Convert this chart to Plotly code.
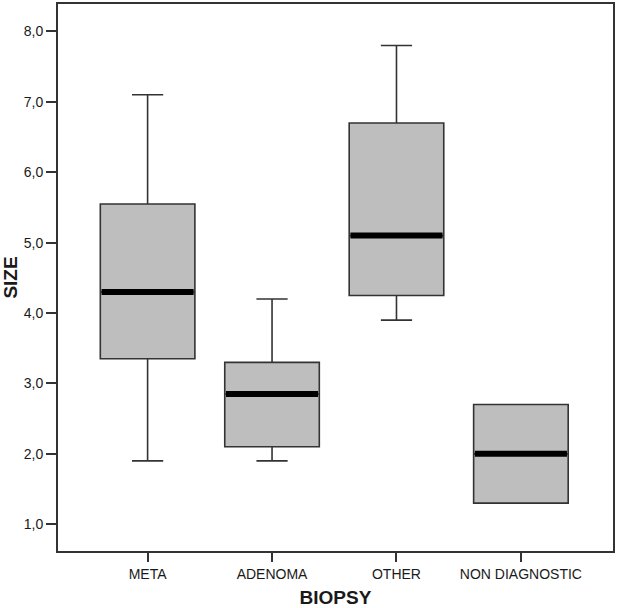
import plotly.graph_objects as go

categories = ["META", "ADENOMA", "OTHER", "NON DIAGNOSTIC"]
lower_whisker = [1.9, 1.9, 3.9, 1.3]
q1 = [3.35, 2.1, 4.25, 1.3]
median = [4.3, 2.85, 5.1, 2.0]
q3 = [5.55, 3.3, 6.7, 2.7]
upper_whisker = [7.1, 4.2, 7.8, 2.7]
y_ticks = [1, 2, 3, 4, 5, 6, 7, 8]

positions = list(range(len(categories)))
box_half = 0.38

fig = go.Figure()
fig.add_trace(go.Box(
    x=positions, q1=q1, median=median, q3=q3,
    lowerfence=lower_whisker, upperfence=upper_whisker,
    fillcolor="#bebebe", line=dict(color="#333333", width=1.6),
    width=2 * box_half, whiskerwidth=0.33, boxpoints=False, showlegend=False,
    hoverinfo="skip",
))
# thick median bars
mx, my = [], []
for p, m in zip(positions, median):
    mx += [p - box_half + 0.01, p + box_half - 0.01, None]
    my += [m, m, None]
fig.add_trace(go.Scatter(x=mx, y=my, mode="lines",
                         line=dict(color="black", width=6),
                         showlegend=False, hoverinfo="skip"))

fig.update_layout(
    width=617, height=608,
    margin=dict(l=57, r=2, t=2, b=51),
    paper_bgcolor="white", plot_bgcolor="white",
    separators=",.",
    font=dict(family="Liberation Sans, Arial, sans-serif", color="#1a1a1a", size=14),
    xaxis=dict(
        range=[-0.72, 3.74], tickvals=positions, ticktext=categories,
        showline=True, linecolor="#333333", linewidth=2, mirror=True,
        ticks="outside", ticklen=9, tickwidth=1.5, tickcolor="#333333",
        showgrid=False, zeroline=False,
        title=dict(text="<b>BIOPSY</b>", font=dict(size=19), standoff=11),
    ),
    yaxis=dict(
        range=[0.62, 8.39], tickvals=y_ticks, tickformat=".1f",
        showline=True, linecolor="#333333", linewidth=2, mirror=True,
        ticks="outside", ticklen=10, tickwidth=1.5, tickcolor="#333333",
        showgrid=False, zeroline=False,
        title=dict(text="<b>SIZE</b>", font=dict(size=19), standoff=8),
    ),
)
fig.write_html("out.html",
               config={"displayModeBar": False},
               post_script="document.body.style.margin='0';document.body.style.overflow='hidden';")
